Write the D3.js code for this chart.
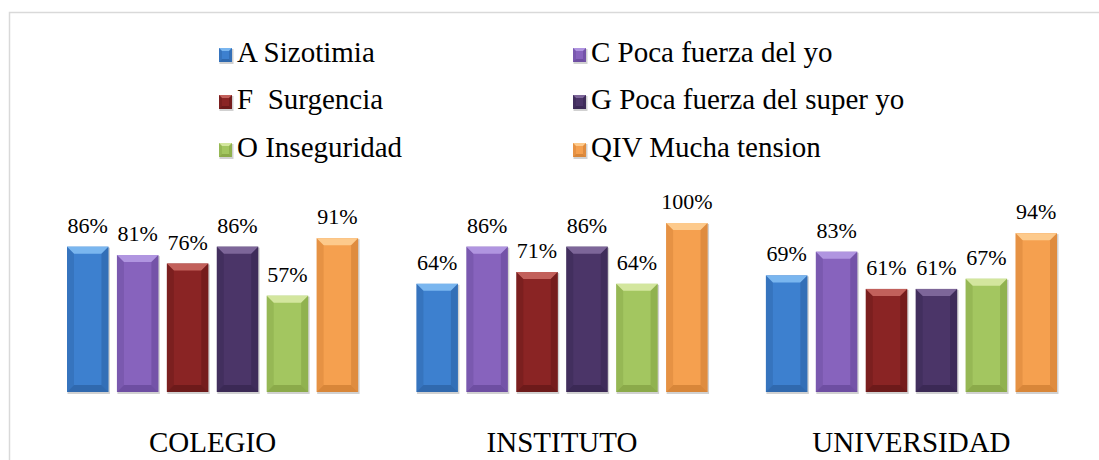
<!DOCTYPE html>
<html>
<head>
<meta charset="utf-8">
<script src="https://cdn.jsdelivr.net/npm/d3@7"></script>
<style>body { margin: 0; background: #fff; }</style>
</head>
<body>
<div id="plot"></div>
<script>
// data
var groups = ["COLEGIO", "INSTITUTO", "UNIVERSIDAD"]
var series = ["A Sizotimia", "C Poca fuerza del yo", "F  Surgencia",
  "G Poca fuerza del super yo", "O Inseguridad", "QIV Mucha tension"]
var colegio = [0.86, 0.81, 0.76, 0.86, 0.57, 0.91]
var instituto = [0.64, 0.86, 0.71, 0.86, 0.64, 1.00]
var universidad = [0.69, 0.83, 0.61, 0.61, 0.67, 0.94]

// colours: face, light bevel, dark bevel
var faces = ["#3d80cf", "#8763bd", "#8a2424", "#4b3568", "#a3c660", "#f5a04f"]
var lights = ["#7ab6ef", "#b095e0", "#c2605b", "#7d6699", "#d3e69e", "#fdca8c"]
var darks = ["#285a98", "#5d418f", "#5a1414", "#30214a", "#7b983c", "#c5742c"]

var svg = d3.select("#plot").append("svg").attr("width", 1099).attr("height", 460)

// chart frame (runs off the right / bottom of the picture)
svg.append("rect")
  .attr("x", 9.5).attr("y", 12.5)
  .attr("width", 1200).attr("height", 600)
  .attr("fill", "none")
  .attr("stroke", "#d9d9d9")
  .attr("stroke-width", 1.5)

var rows = groups.map((g, i) => ({
  group: g,
  values: [colegio, instituto, universidad][i]
}))

// scales
var x0 = d3.scaleBand()
  .domain(groups)
  .range([67, 1057])
  .paddingInner(0.167)

var x1 = d3.scaleBand()
  .domain(series)
  .range([0, x0.bandwidth()])
  .paddingInner(0.17)

var y = d3.scaleLinear()
  .domain([0, 1])
  .range([392, 223])

// beveled box
function bevel(g, x, yTop, w, h, i, b) {
  g.append("rect")
    .attr("x", x + 0.5).attr("y", yTop + 1)
    .attr("width", w + 1).attr("height", h + 1)
    .attr("fill", "#000")
    .attr("opacity", 0.18)
  g.append("rect")
    .attr("x", x).attr("y", yTop)
    .attr("width", w).attr("height", h)
    .attr("fill", faces[i])
  var pts = [
    [[x, yTop], [x + w, yTop], [x + w - b, yTop + b], [x + b, yTop + b], lights[i], 1],
    [[x, yTop], [x + b, yTop + b], [x + b, yTop + h - b], [x, yTop + h], darks[i], 0.3],
    [[x + w, yTop], [x + w, yTop + h], [x + w - b, yTop + h - b], [x + w - b, yTop + b], darks[i], 0.45],
    [[x, yTop + h], [x + b, yTop + h - b], [x + w - b, yTop + h - b], [x + w, yTop + h], darks[i], 0.6]
  ]
  pts.forEach(p => {
    g.append("polygon")
      .attr("points", p.slice(0, 4).map(q => q.join(",")).join(" "))
      .attr("fill", p[4])
      .attr("opacity", p[5])
  })
}

// bars
var groupSel = svg.selectAll(".grp")
  .data(rows)
  .enter()
  .append("g")
  .attr("class", "grp")
  .attr("transform", d => `translate(${x0(d.group)},0)`)

groupSel.each(function (d) {
  var g = d3.select(this)
  d.values.forEach((v, i) => {
    bevel(g, x1(series[i]), y(v), x1.bandwidth(), y(0) - y(v), i, 7)
  })
})

// legend markers
var legendX = [219, 573]
var legendY = [62, 109, 157]
series.forEach((s, i) => {
  bevel(svg.append("g"), legendX[i % 2], legendY[Math.floor(i / 2)] - 14, 13, 14, i, 3)
})

// all texts in one flat list, drawn straight onto the svg
var labels = []
rows.forEach(r => r.values.forEach((v, i) => labels.push({
  x: x0(r.group) + x1(series[i]) + x1.bandwidth() / 2,
  y: y(v) - 14, size: 22, anchor: "middle", t: Math.round(v * 100) + "%"
})))
groups.forEach(g => labels.push({
  x: x0(g) + x0.bandwidth() / 2, y: 452, size: 29, anchor: "middle", t: g
}))
series.forEach((s, i) => labels.push({
  x: legendX[i % 2] + 18, y: legendY[Math.floor(i / 2)], size: 29, anchor: "start", t: s
}))

svg.selectAll("text").data(labels).enter().append("text")
  .attr("x", d => d.x).attr("y", d => d.y)
  .attr("font-size", d => d.size)
  .attr("text-anchor", d => d.anchor)
  .attr("xml:space", "preserve")
  .style("font-family", d => "'Liberation Serif'")
  .text(d => d.t)
</script>
</body>
</html>
